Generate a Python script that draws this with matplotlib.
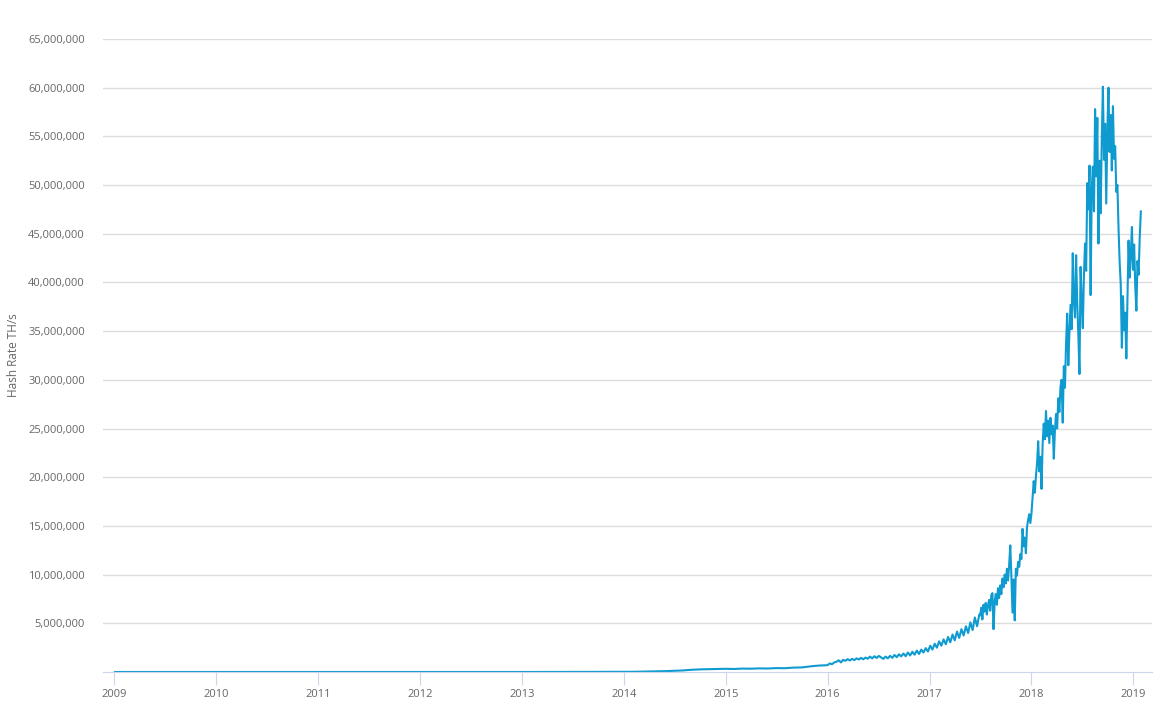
import pandas as pd
import numpy as np
import matplotlib.pyplot as plt
import matplotlib.dates as mdates
from matplotlib.ticker import FuncFormatter

plt.rcParams['font.family'] = ['Open Sans', 'DejaVu Sans']

# hash rate in millions of TH/s
early_dates = ['2009-01-03', '2010-01-01', '2011-01-01', '2012-01-01', '2013-01-01']
early_vals = [0.0, 0.0, 0.0001, 0.0001, 0.0002]

# monthly 2014-2015
vals_2014 = [0.012, 0.02, 0.035, 0.05, 0.07, 0.09, 0.13, 0.16, 0.23, 0.27, 0.29, 0.30,
             0.33, 0.31, 0.35, 0.34, 0.37, 0.36, 0.40, 0.39, 0.45, 0.47, 0.58, 0.66]

# every 8 days from 2016-01-01
vals_2016 = [0.70, 0.88, 0.80, 0.98, 1.05, 1.20, 0.98, 1.25, 1.15, 1.32,
             1.18, 1.35, 1.22, 1.40, 1.28, 1.45, 1.30, 1.48, 1.36, 1.58,
             1.40, 1.62, 1.44, 1.65, 1.50, 1.35, 1.58, 1.40, 1.66, 1.45,
             1.75, 1.52, 1.82, 1.60, 1.90, 1.62, 2.00, 1.70, 2.08, 1.78,
             2.20, 1.85, 2.30, 2.00, 2.45, 2.10, 2.70, 2.30, 2.90, 2.50,
             3.15, 2.70, 3.35, 2.85, 3.60, 3.05, 3.85, 3.25, 4.15, 3.50,
             4.40, 3.75, 4.70, 4.00, 5.10, 4.30, 5.60, 4.70, 5.90]

# every 4 days from 2017-07-01
vals_2017 = [5.8, 6.6, 5.4, 6.9, 6.2, 7.1, 5.9, 6.8, 7.4, 6.3,
             7.9, 8.1, 4.4, 7.2, 8.0, 6.9, 8.6, 7.6, 8.9, 8.0,
             9.6, 8.7, 10.0, 9.1, 10.6, 9.4, 11.0, 13.0, 9.8, 6.1,
             9.5, 5.3, 10.6, 9.9, 11.3, 10.8, 12.1, 11.6, 14.7, 12.9,
             13.8, 12.2, 14.9, 15.6, 16.2, 15.3, 16.3, 17.9, 19.6, 18.4,
             20.1, 21.4, 23.7, 20.6, 22.1, 18.8, 23.4, 25.5, 23.9, 26.8,
             24.2, 25.8, 23.5, 26.1, 24.4, 25.3, 21.9, 24.8, 26.5, 25.0,
             28.1, 26.7, 29.3, 30.0, 25.6, 31.4, 29.2, 33.8, 36.8, 31.5,
             34.9, 37.7, 35.2, 43.0, 38.1, 36.4, 42.8, 37.9, 34.6, 30.6,
             41.6, 38.2, 35.3, 40.7, 44.0, 41.2, 50.2, 47.5, 52.0, 38.7,
             49.6, 51.9, 47.3, 57.8, 50.9, 56.9, 44.0, 52.5, 47.1, 54.8,
             60.1, 52.6, 56.3, 48.1, 55.7, 60.0, 53.4, 57.2, 51.5, 58.1,
             52.7, 54.0, 49.3, 50.0, 45.6, 42.1, 39.8, 33.3, 38.6, 35.1,
             36.9, 32.2, 38.4, 44.3, 40.5, 42.8, 45.7, 41.3, 43.9, 39.6,
             37.1, 42.2, 40.8, 44.6, 47.3]

s = pd.concat([
    pd.Series(early_vals, index=pd.to_datetime(early_dates)),
    pd.Series(vals_2014, index=pd.date_range('2014-01-01', periods=len(vals_2014), freq='MS')),
    pd.Series(vals_2016, index=pd.date_range('2016-01-01', periods=len(vals_2016), freq='8D')),
    pd.Series(vals_2017, index=pd.date_range('2017-07-01', periods=len(vals_2017), freq='4D')),
]) * 1e6

fig = plt.figure(figsize=(11.63, 7.22), dpi=100)
ax = fig.add_axes([103/1163, 50/722, 1049/1163, 633/722])

ax.plot(s.index, s.values, color='#0f9bd0', lw=1.5)

ax.set_ylim(0, 65e6)
ax.set_yticks(np.arange(5e6, 65e6 + 1, 5e6))
ax.yaxis.set_major_formatter(FuncFormatter(lambda v, p: f'{int(v):,}'))
ax.set_xlim(pd.Timestamp('2008-11-21'), pd.Timestamp('2019-03-09'))
ax.xaxis.set_major_locator(mdates.YearLocator())
ax.xaxis.set_major_formatter(mdates.DateFormatter('%Y'))

ax.grid(axis='y', color='#dcdcdc', lw=1)
ax.set_axisbelow(True)
for sp in ['left', 'right', 'top']:
    ax.spines[sp].set_visible(False)
ax.spines['bottom'].set_color('#ccd6eb')
ax.tick_params(axis='y', length=0, pad=13, labelsize=8, labelcolor='#666666')
ax.tick_params(axis='x', length=9, color='#ccd6eb', pad=3, labelsize=8, labelcolor='#666666')
ax.set_ylabel('Hash Rate TH/s', fontsize=8.5, color='#666666', labelpad=6)

plt.savefig('out.png')
